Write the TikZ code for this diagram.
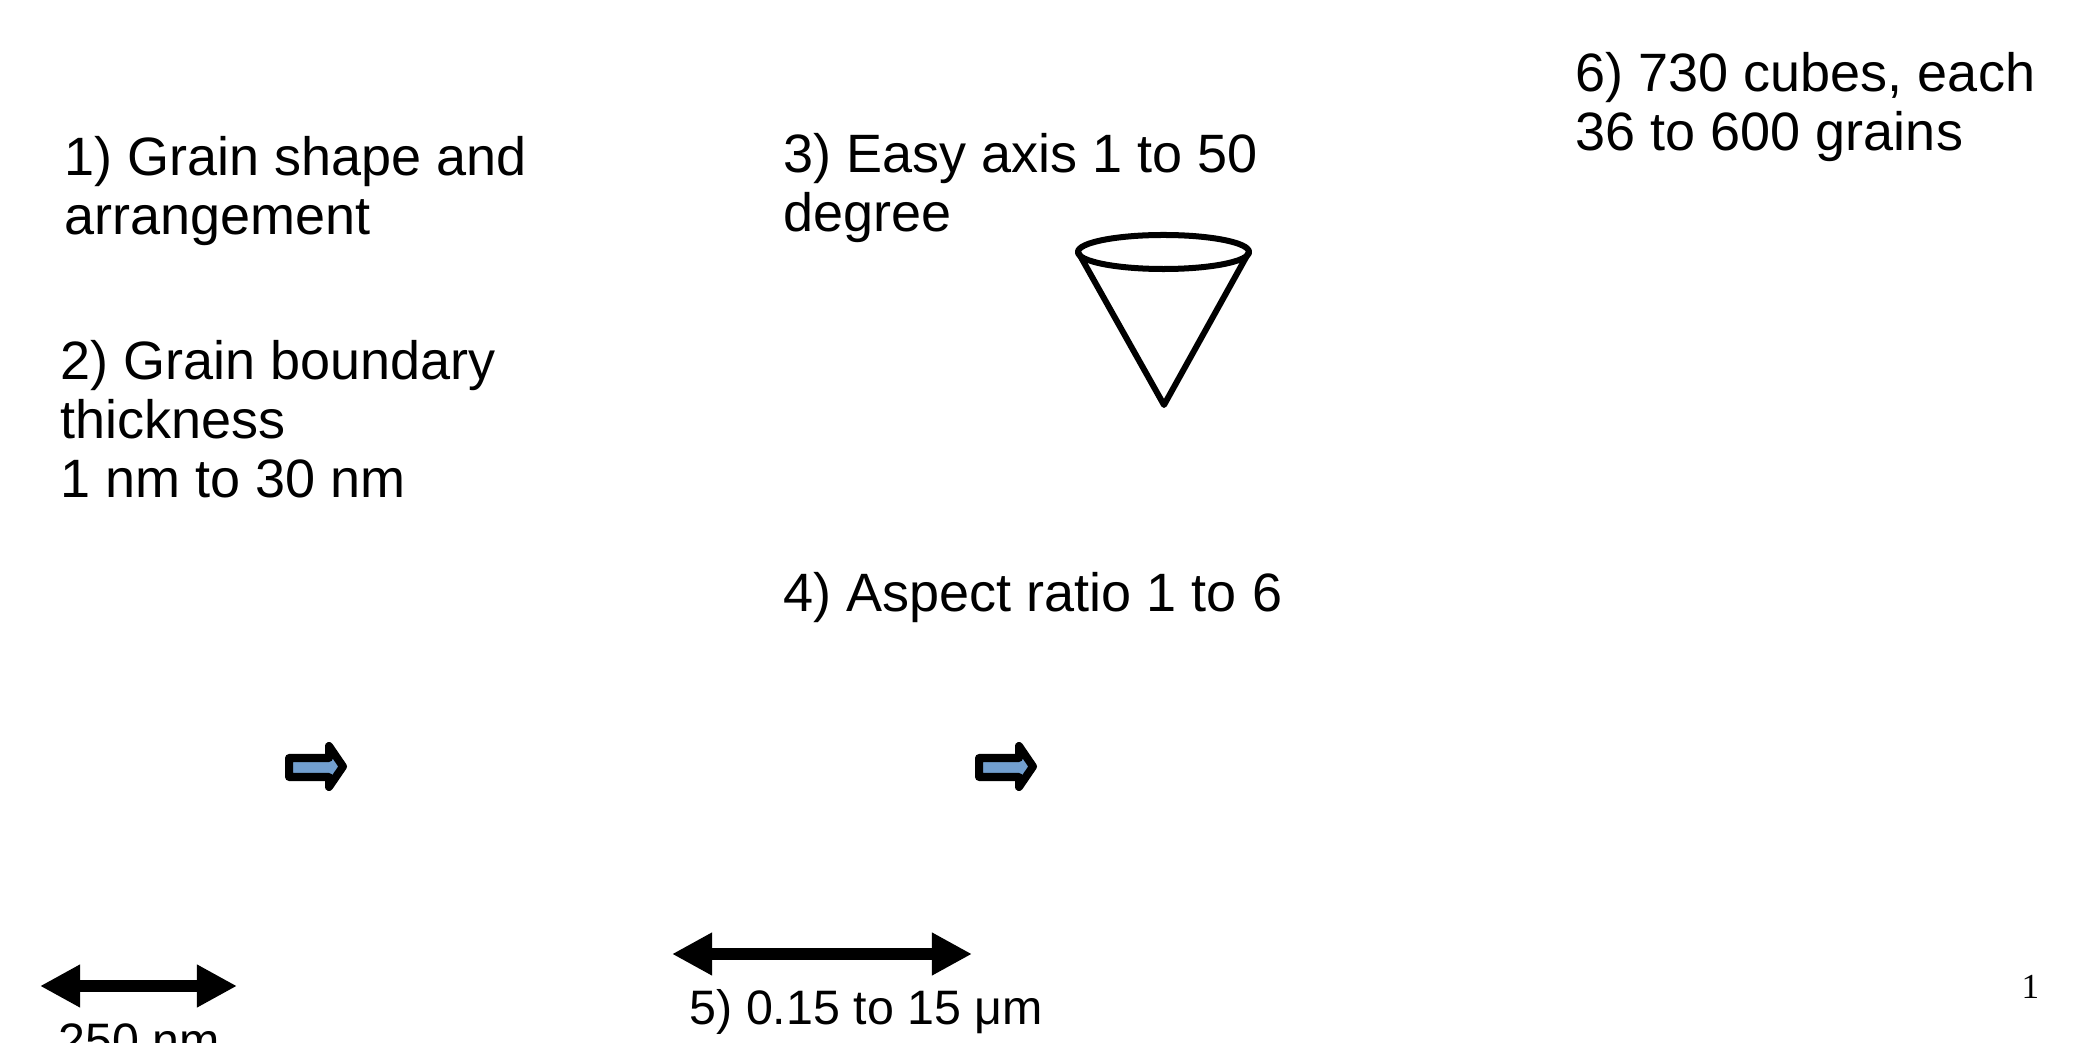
\documentclass[tikz,border=0pt]{standalone}
\usepackage{fontspec}
\setmainfont{Liberation Sans}
\newfontfamily\pnfont{Liberation Serif}
\usetikzlibrary{arrows.meta}
\definecolor{arrowblue}{RGB}{114,159,207}
\tikzset{
  label/.style={anchor=base west, inner sep=0pt, align=left, font=\fontsize{15.36pt}{16.8pt}\selectfont},
  smalllabel/.style={label, font=\fontsize{13.75pt}{16pt}\selectfont},
  blockarrow/.style={draw=black, fill=arrowblue, line width=0.08cm, line join=round},
  scalebar/.style={line width=0.12cm, {Triangle[length=0.4cm,width=0.4cm]}-{Triangle[length=0.4cm,width=0.4cm]}},
  conestroke/.style={line width=0.06cm, line join=round, line cap=round}
}
\begin{document}
\begin{tikzpicture}[x=0.01cm, y=-0.01cm]
\useasboundingbox (0,0) rectangle (2081,1043);
% texts (base anchor = baseline of last line)
\node[label] (t1) at (64,235) {1) Grain shape and\\arrangement};
\node[label] (t2) at (60,498) {2) Grain boundary\\thickness\\1 nm to 30 nm};
\node[label] (t3) at (783,232) {3) Easy axis 1 to 50\\degree};
\node[label] (t4) at (783,612) {4) Aspect ratio 1 to 6};
\node[smalllabel] (t5) at (689,1024) {5) 0.15 to 15 μm};
\node[label] (t6) at (1575,151) {6) 730 cubes, each\\36 to 600 grains};
\node[smalllabel] (t7) at (58,1057) {250 nm};
\node[anchor=base west, inner sep=0pt, font=\pnfont\fontsize{10pt}{12pt}\selectfont] (pn) at (2021,998) {1};
% cone
\coordinate (cl) at (1078,252);
\coordinate (cr) at (1249,252);
\coordinate (apex) at (1164,405);
\draw[conestroke] (1163.5,252) ellipse [x radius=0.855cm, y radius=0.17cm];
\draw[conestroke] (cl) -- (apex) -- (cr);
% block arrows
\draw[blockarrow] (289,758) -- (329,758) -- (329,746) -- (343,766.5) -- (329,787) -- (329,777) -- (289,777) -- cycle;
\draw[blockarrow] (979,758) -- (1019,758) -- (1019,746) -- (1033,766.5) -- (1019,787) -- (1019,777) -- (979,777) -- cycle;
% scale bars
\coordinate (s1l) at (40,986);
\coordinate (s1r) at (237,986);
\coordinate (s2l) at (672,954);
\coordinate (s2r) at (972,954);
\draw[scalebar] (s1l) -- (s1r);
\draw[scalebar] (s2l) -- (s2r);
\end{tikzpicture}
\end{document}
